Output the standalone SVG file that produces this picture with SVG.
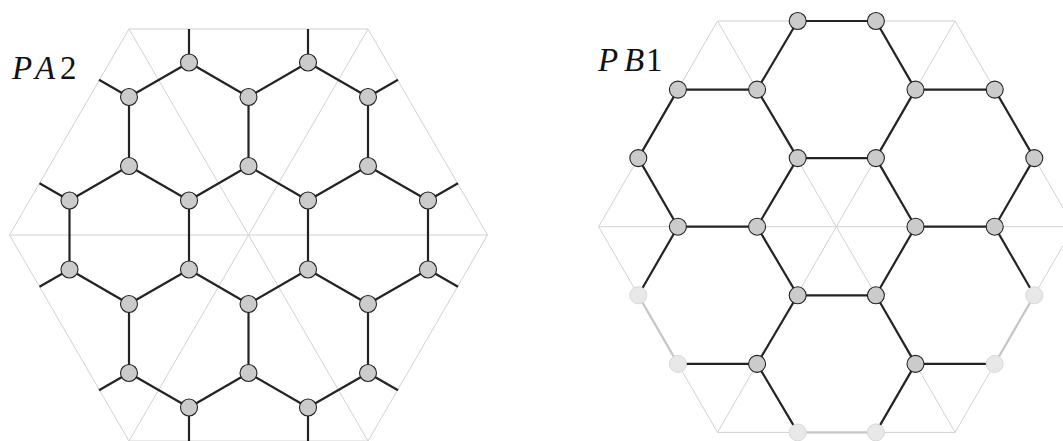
<svg xmlns="http://www.w3.org/2000/svg" width="1063" height="441" viewBox="0 0 1063 441">
<style>
.grid{fill:none;stroke:#d2d2d2;stroke-width:1}
.e{stroke:#232323;stroke-width:2.2;stroke-linecap:butt}
.el{stroke:#c6c6c6;stroke-width:2.2}
.n{fill:#cbcbcb;stroke:#232323;stroke-width:1.1}
.nl{fill:#e8e8e8;stroke:#d8d8d8;stroke-width:1}
.lbl{font-family:"Liberation Serif","DejaVu Serif",serif;font-size:33px;fill:#111}
</style>
<rect width="1063" height="441" fill="#fff"/>
<g id="grid-a" class="grid">
<polygon points="129,29 368,29 487.5,235 368,441 129,441 9.5,235"/>
<line x1="129" y1="29" x2="368" y2="441"/>
<line x1="368" y1="29" x2="129" y2="441"/>
<line x1="9.5" y1="235" x2="487.5" y2="235"/>
</g>
<g id="grid-b" class="grid">
<polygon points="717.5,21 955.1,21 1073.9,226.7 955.1,432.4 717.5,432.4 598.7,226.7"/>
<line x1="717.5" y1="21" x2="955.1" y2="432.4"/>
<line x1="955.1" y1="21" x2="717.5" y2="432.4"/>
<line x1="598.7" y1="226.7" x2="1073.9" y2="226.7"/>
</g>
<g id="connectors">
<g id="edges-a" class="e">
<line x1="189" y1="62.5" x2="248.5" y2="97"/>
<line x1="248.5" y1="97" x2="248.5" y2="166"/>
<line x1="248.5" y1="166" x2="189" y2="200.5"/>
<line x1="189" y1="200.5" x2="129" y2="166"/>
<line x1="129" y1="166" x2="129" y2="97"/>
<line x1="129" y1="97" x2="189" y2="62.5"/>
<line x1="308" y1="62.5" x2="368" y2="97"/>
<line x1="368" y1="97" x2="368" y2="166"/>
<line x1="368" y1="166" x2="308" y2="200.5"/>
<line x1="308" y1="200.5" x2="248.5" y2="166"/>
<line x1="248.5" y1="97" x2="308" y2="62.5"/>
<line x1="189" y1="200.5" x2="189" y2="269.5"/>
<line x1="189" y1="269.5" x2="129" y2="304"/>
<line x1="129" y1="304" x2="69.5" y2="269.5"/>
<line x1="69.5" y1="269.5" x2="69.5" y2="200.5"/>
<line x1="69.5" y1="200.5" x2="129" y2="166"/>
<line x1="308" y1="200.5" x2="308" y2="269.5"/>
<line x1="308" y1="269.5" x2="248.5" y2="304"/>
<line x1="248.5" y1="304" x2="189" y2="269.5"/>
<line x1="368" y1="166" x2="428" y2="200.5"/>
<line x1="428" y1="200.5" x2="428" y2="269.5"/>
<line x1="428" y1="269.5" x2="368" y2="304"/>
<line x1="368" y1="304" x2="308" y2="269.5"/>
<line x1="248.5" y1="304" x2="248.5" y2="373"/>
<line x1="248.5" y1="373" x2="189" y2="407.5"/>
<line x1="189" y1="407.5" x2="129" y2="373"/>
<line x1="129" y1="373" x2="129" y2="304"/>
<line x1="368" y1="304" x2="368" y2="373"/>
<line x1="368" y1="373" x2="308" y2="407.5"/>
<line x1="308" y1="407.5" x2="248.5" y2="373"/>
<line x1="189" y1="62.5" x2="189" y2="29"/>
<line x1="308" y1="62.5" x2="308" y2="29"/>
<line x1="129" y1="97" x2="99" y2="79.75"/>
<line x1="368" y1="97" x2="398" y2="79.75"/>
<line x1="69.5" y1="200.5" x2="39.5" y2="183.25"/>
<line x1="428" y1="200.5" x2="458" y2="183.25"/>
<line x1="69.5" y1="269.5" x2="39.5" y2="286.75"/>
<line x1="428" y1="269.5" x2="458" y2="286.75"/>
<line x1="129" y1="373" x2="99" y2="390.25"/>
<line x1="368" y1="373" x2="398" y2="390.25"/>
<line x1="189" y1="407.5" x2="189" y2="441"/>
<line x1="308" y1="407.5" x2="308" y2="441"/>
</g>
<g id="edges-b" class="e">
<line x1="797.7" y1="21" x2="875.9" y2="21"/>
<line x1="875.9" y1="21" x2="915.5" y2="89.6"/>
<line x1="915.5" y1="89.6" x2="875.9" y2="158.1"/>
<line x1="875.9" y1="158.1" x2="797.7" y2="158.1"/>
<line x1="797.7" y1="158.1" x2="757.1" y2="89.6"/>
<line x1="757.1" y1="89.6" x2="797.7" y2="21"/>
<line x1="677.9" y1="89.6" x2="757.1" y2="89.6"/>
<line x1="797.7" y1="158.1" x2="757.1" y2="226.7"/>
<line x1="757.1" y1="226.7" x2="677.9" y2="226.7"/>
<line x1="677.9" y1="226.7" x2="638.3" y2="158.1"/>
<line x1="638.3" y1="158.1" x2="677.9" y2="89.6"/>
<line x1="915.5" y1="89.6" x2="994.7" y2="89.6"/>
<line x1="994.7" y1="89.6" x2="1034.3" y2="158.1"/>
<line x1="1034.3" y1="158.1" x2="994.7" y2="226.7"/>
<line x1="994.7" y1="226.7" x2="915.5" y2="226.7"/>
<line x1="915.5" y1="226.7" x2="875.9" y2="158.1"/>
<line x1="915.5" y1="226.7" x2="875.9" y2="295.3"/>
<line x1="875.9" y1="295.3" x2="797.7" y2="295.3"/>
<line x1="797.7" y1="295.3" x2="757.1" y2="226.7"/>
<line x1="797.7" y1="295.3" x2="757.1" y2="363.9"/>
<line x1="757.1" y1="363.9" x2="677.9" y2="363.9"/>
<line x1="638.3" y1="295.3" x2="677.9" y2="226.7"/>
<line x1="994.7" y1="226.7" x2="1034.3" y2="295.3"/>
<line x1="994.7" y1="363.9" x2="915.5" y2="363.9"/>
<line x1="915.5" y1="363.9" x2="875.9" y2="295.3"/>
<line x1="915.5" y1="363.9" x2="875.9" y2="432.4"/>
<line x1="797.7" y1="432.4" x2="757.1" y2="363.9"/>
</g>
<g id="edges-b-faded" class="el">
<line x1="677.9" y1="363.9" x2="638.3" y2="295.3"/>
<line x1="1034.3" y1="295.3" x2="994.7" y2="363.9"/>
<line x1="875.9" y1="432.4" x2="797.7" y2="432.4"/>
</g>
</g>
<g id="nodes-a" class="n">
<g id="a1"><circle cx="189" cy="62.5" r="8.5"/></g>
<g id="a2"><circle cx="308" cy="62.5" r="8.5"/></g>
<g id="a3"><circle cx="129" cy="97" r="8.5"/></g>
<g id="a4"><circle cx="248.5" cy="97" r="8.5"/></g>
<g id="a5"><circle cx="368" cy="97" r="8.5"/></g>
<g id="a6"><circle cx="129" cy="166" r="8.5"/></g>
<g id="a7"><circle cx="248.5" cy="166" r="8.5"/></g>
<g id="a8"><circle cx="368" cy="166" r="8.5"/></g>
<g id="a9"><circle cx="69.5" cy="200.5" r="8.5"/></g>
<g id="a10"><circle cx="189" cy="200.5" r="8.5"/></g>
<g id="a11"><circle cx="308" cy="200.5" r="8.5"/></g>
<g id="a12"><circle cx="428" cy="200.5" r="8.5"/></g>
<g id="a13"><circle cx="69.5" cy="269.5" r="8.5"/></g>
<g id="a14"><circle cx="189" cy="269.5" r="8.5"/></g>
<g id="a15"><circle cx="308" cy="269.5" r="8.5"/></g>
<g id="a16"><circle cx="428" cy="269.5" r="8.5"/></g>
<g id="a17"><circle cx="129" cy="304" r="8.5"/></g>
<g id="a18"><circle cx="248.5" cy="304" r="8.5"/></g>
<g id="a19"><circle cx="368" cy="304" r="8.5"/></g>
<g id="a20"><circle cx="129" cy="373" r="8.5"/></g>
<g id="a21"><circle cx="248.5" cy="373" r="8.5"/></g>
<g id="a22"><circle cx="368" cy="373" r="8.5"/></g>
<g id="a23"><circle cx="189" cy="407.5" r="8.5"/></g>
<g id="a24"><circle cx="308" cy="407.5" r="8.5"/></g>
</g>
<g id="nodes-b" class="n">
<g id="b1"><circle cx="797.7" cy="21" r="8.5"/></g>
<g id="b2"><circle cx="875.9" cy="21" r="8.5"/></g>
<g id="b3"><circle cx="677.9" cy="89.6" r="8.5"/></g>
<g id="b4"><circle cx="757.1" cy="89.6" r="8.5"/></g>
<g id="b5"><circle cx="915.5" cy="89.6" r="8.5"/></g>
<g id="b6"><circle cx="994.7" cy="89.6" r="8.5"/></g>
<g id="b7"><circle cx="638.3" cy="158.1" r="8.5"/></g>
<g id="b8"><circle cx="797.7" cy="158.1" r="8.5"/></g>
<g id="b9"><circle cx="875.9" cy="158.1" r="8.5"/></g>
<g id="b10"><circle cx="1034.3" cy="158.1" r="8.5"/></g>
<g id="b11"><circle cx="677.9" cy="226.7" r="8.5"/></g>
<g id="b12"><circle cx="757.1" cy="226.7" r="8.5"/></g>
<g id="b13"><circle cx="915.5" cy="226.7" r="8.5"/></g>
<g id="b14"><circle cx="994.7" cy="226.7" r="8.5"/></g>
<g id="b15"><circle cx="797.7" cy="295.3" r="8.5"/></g>
<g id="b16"><circle cx="875.9" cy="295.3" r="8.5"/></g>
<g id="b17"><circle cx="757.1" cy="363.9" r="8.5"/></g>
<g id="b18"><circle cx="915.5" cy="363.9" r="8.5"/></g>
<g id="b19" class="nl"><circle cx="638.3" cy="295.3" r="8.5"/></g>
<g id="b20" class="nl"><circle cx="1034.3" cy="295.3" r="8.5"/></g>
<g id="b21" class="nl"><circle cx="677.9" cy="363.9" r="8.5"/></g>
<g id="b22" class="nl"><circle cx="994.7" cy="363.9" r="8.5"/></g>
<g id="b23" class="nl"><circle cx="797.7" cy="432.4" r="8.5"/></g>
<g id="b24" class="nl"><circle cx="875.9" cy="432.4" r="8.5"/></g>
</g>
<g id="labels" class="lbl">
<text x="12" y="78.5"><tspan font-style="italic">P</tspan><tspan x="35" font-style="italic">A</tspan><tspan x="60">2</tspan></text>
<text x="598" y="71"><tspan font-style="italic">P</tspan><tspan x="624" font-style="italic">B</tspan><tspan x="646">1</tspan></text>
</g>
</svg>
